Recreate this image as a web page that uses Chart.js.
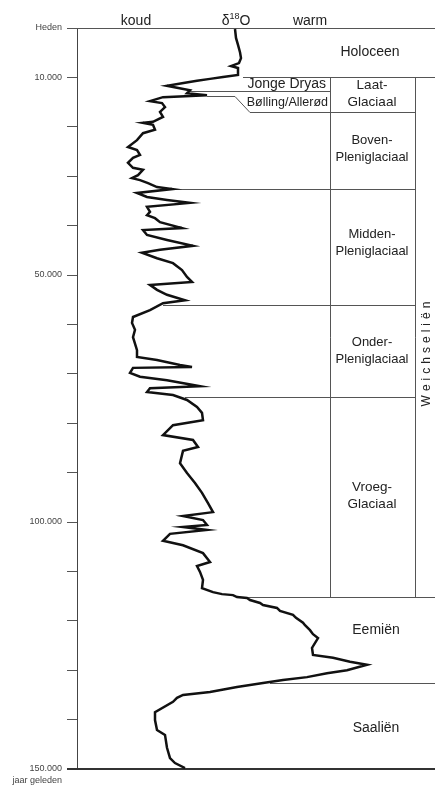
<!DOCTYPE html>
<html><head><meta charset="utf-8">
<script src="https://cdn.jsdelivr.net/npm/chart.js@4"></script>
<style>html,body{margin:0;padding:0;background:#fff}canvas{display:block}</style>
</head><body>
<canvas id="c" width="435" height="785"></canvas>
<script>
// ---- DATA ----
// relative δ18O index (left = koud, right = warm)
const deltaO18 = [158,159,161,163,164,162,154,161,161,146,133,120,108,90,100,113,110,130,86,73,85,88,83,86,76,66,76,78,66,60,51,60,63,56,51,56,66,61,55,63,71,80,95,60,70,90,113,70,73,70,78,83,105,66,70,90,116,83,65,80,96,105,110,115,73,80,90,108,86,73,56,55,58,56,60,60,80,103,115,56,53,63,90,123,73,70,96,110,120,125,126,96,86,116,121,106,103,110,118,125,131,136,106,126,130,106,130,93,86,106,126,133,120,123,126,125,136,145,156,160,170,173,183,186,200,203,216,219,226,228,233,236,241,235,236,256,273,290,270,250,230,206,186,160,133,106,100,96,78,78,80,88,90,93,98,108];
// years before present
const yearsAgo = [200,2000,3400,4900,6100,7100,7700,8100,9500,9900,10300,10700,11100,11700,12100,12600,13200,13600,14000,14800,15200,16000,17000,18000,19000,19200,19600,20600,21300,22700,24100,24700,25700,26300,27300,28300,28700,29800,30400,30800,31400,32200,32600,33400,34200,34800,35400,36200,37200,37900,38500,39300,40500,40900,41900,42900,44100,44900,45500,46600,47600,49000,50400,51400,52000,53000,54000,55100,55700,57100,58500,59700,61100,62600,65200,66600,67200,68200,68600,68800,69800,70600,71300,72500,72900,73700,74300,75300,76700,77900,79400,80400,82400,83400,84800,85600,88100,90100,92100,94100,96200,98000,98800,99600,100600,101000,101600,102400,103800,104700,106300,108100,108900,110100,111700,113400,114200,114600,114800,115200,115400,115800,116400,116800,117400,118000,118800,119400,120400,120900,121900,122700,123500,125500,126900,127500,128300,128900,130000,130600,131400,132000,132600,133400,134400,135000,135600,136400,138500,140100,142100,143100,145700,147800,148800,149800];

const yTickLabels = {0:'Heden',10000:'10.000',50000:'50.000',100000:'100.000',150000:'150.000'};
const periodNames = ['Holoceen','Laat-\nGlaciaal','Boven-\nPleniglaciaal','Midden-\nPleniglaciaal','Onder-\nPleniglaciaal','Vroeg-\nGlaciaal','Eemiën','Saaliën'];
const periodBoundaryYears = [10000, 17100, 32600, 56100, 74700, 115200, 132600];
const subZoneNames = ['Jonge Dryas','Bølling/Allerød'];
const subZoneBoundaryYears = [12800, 13700];
const stageName = 'Weichseliën';
const headerLabels = ['koud','warm'];

// ---- LAYOUT (positions in scale units) ----
const FONT = "'Liberation Sans', Arial, Helvetica, sans-serif";
const layout = {
  periodLabelAt: [[293,4900],[295,13400],[295,24400],[295,43600],[295,65400],[295,94700],[299,121900],[299,141700]],
  periodFontSize: [14,13.5,13,13,13,13.5,14,14],
  subZoneLabelAt: [[249,11300],[251,15100]],
  subZoneFontSize: [14,12.5],
  stageLabelAt: [350,66000],
  headerAt: [59,233], deltaAt: 159,
  boxLeft: 253, boxRight: 338, xEnd: 358,
  periodLineStart: [166, 173, 96, 86, 108, 166, 193],
  periodLineEnd:   [358, 338, 338, 338, 338, 358, 358],
  jdLine: [113, 253],
  baLine: [130, 158, 173]
};

const points = deltaO18.map((v,i)=>({x:v, y:yearsAgo[i]}));

function hline(ctx, x1, x2, y){ const yy=Math.round(y)+0.5; ctx.beginPath(); ctx.moveTo(x1,yy); ctx.lineTo(x2,yy); ctx.stroke(); }
function vline(ctx, x, y1, y2){ const xx=Math.round(x)+0.5; ctx.beginPath(); ctx.moveTo(xx,y1); ctx.lineTo(xx,y2); ctx.stroke(); }

const annot = {
  id:'annot',
  beforeDatasetsDraw(chart){
    const {ctx, scales:{x,y}} = chart;
    const X = v=>x.getPixelForValue(v), Y = v=>y.getPixelForValue(v);
    ctx.save();
    ctx.strokeStyle='#555'; ctx.lineWidth=1;
    hline(ctx, x.left-10, chart.width, Y(0));
    periodBoundaryYears.forEach((yr,i)=>{
      if (i===1) return;
      hline(ctx, X(layout.periodLineStart[i]), X(layout.periodLineEnd[i]), Y(yr));
    });
    hline(ctx, X(layout.jdLine[0]), X(layout.jdLine[1]), Y(subZoneBoundaryYears[0]));
    const yA = Math.round(Y(subZoneBoundaryYears[1]))+0.5, yB = Math.round(Y(periodBoundaryYears[1]))+0.5;
    ctx.beginPath();
    ctx.moveTo(X(layout.baLine[0]), yA);
    ctx.lineTo(X(layout.baLine[1]), yA);
    ctx.lineTo(X(layout.baLine[2]), yB);
    ctx.lineTo(X(layout.boxRight), yB);
    ctx.stroke();
    vline(ctx, X(layout.boxLeft), Y(periodBoundaryYears[0]), Y(periodBoundaryYears[5]));
    vline(ctx, X(layout.boxRight), Y(periodBoundaryYears[0]), Y(periodBoundaryYears[5]));
    ctx.strokeStyle='#333'; ctx.lineWidth=2;
    ctx.beginPath(); ctx.moveTo(x.left-10, Math.round(Y(150000))); ctx.lineTo(chart.width, Math.round(Y(150000))); ctx.stroke();
    ctx.restore();
  },
  afterDatasetsDraw(chart){
    const {ctx, scales:{x,y}} = chart;
    const X = v=>x.getPixelForValue(v), Y = v=>y.getPixelForValue(v);
    ctx.save();
    ctx.fillStyle='#222';
    ctx.textBaseline='middle';
    ctx.textAlign='center';
    periodNames.forEach((n,i)=>{
      ctx.font = `${layout.periodFontSize[i]}px ${FONT}`;
      const lines = n.split('\n');
      const [lx, ly] = layout.periodLabelAt[i];
      const cy = Y(ly);
      lines.forEach((t,j)=>ctx.fillText(t, X(lx), cy + (j-(lines.length-1)/2)*17));
    });
    ctx.textAlign='right';
    subZoneNames.forEach((n,i)=>{
      ctx.font = `${layout.subZoneFontSize[i]}px ${FONT}`;
      const [lx, ly] = layout.subZoneLabelAt[i];
      ctx.fillText(n, X(lx), Y(ly));
    });
    ctx.save();
    ctx.translate(X(layout.stageLabelAt[0]), Y(layout.stageLabelAt[1]));
    ctx.rotate(-Math.PI/2);
    ctx.font = `12px ${FONT}`;
    ctx.textAlign='left';
    const sp = 4;
    const chars = [...stageName];
    const total = chars.reduce((s,c)=>s+ctx.measureText(c).width,0) + sp*(chars.length-1);
    let cx = -total/2;
    chars.forEach(c=>{ ctx.fillText(c, cx, 0); cx += ctx.measureText(c).width + sp; });
    ctx.restore();
    const hy = chart.chartArea.top - 8;
    ctx.font = `14px ${FONT}`;
    ctx.textAlign='center';
    ctx.textBaseline='alphabetic';
    headerLabels.forEach((t,i)=>ctx.fillText(t, X(layout.headerAt[i]), hy+5));
    const w1 = ctx.measureText('δ').width, w3 = ctx.measureText('O').width;
    ctx.font = `9px ${FONT}`; const w2 = ctx.measureText('18').width;
    let sx = X(layout.deltaAt) - (w1+w2+w3)/2;
    ctx.textAlign='left';
    ctx.font = `14px ${FONT}`; ctx.fillText('δ', sx, hy+5); sx += w1;
    ctx.font = `9px ${FONT}`; ctx.fillText('18', sx, hy-1); sx += w2;
    ctx.font = `14px ${FONT}`; ctx.fillText('O', sx, hy+5);
    ctx.font = `9px ${FONT}`; ctx.fillStyle='#444';
    ctx.textAlign='right'; ctx.textBaseline='middle';
    ctx.fillText('jaar geleden', x.left-15, Y(150000)+12);
    ctx.restore();
  }
};

new Chart(document.getElementById('c'), {
  type:'scatter',
  data:{datasets:[{data:points, showLine:true, borderColor:'#111', borderWidth:2.5, pointRadius:0, tension:0, fill:false, borderJoinStyle:'miter'}]},
  options:{
    responsive:false, animation:false, devicePixelRatio:1,
    layout:{padding:{top:28,bottom:16,left:0,right:0}},
    plugins:{legend:{display:false}, tooltip:{enabled:false}},
    scales:{
      x:{type:'linear', min:0, max:layout.xEnd, display:false},
      y:{type:'linear', reverse:true, min:0, max:150000,
         afterFit(s){ s.width = 77; },
         ticks:{stepSize:10000, autoSkip:false, callback:v=>yTickLabels[v] ?? '', font:{size:9, family:FONT}, color:'#444', padding:5},
         grid:{drawOnChartArea:false, drawTicks:true, tickLength:10, color:'#555', lineWidth:1},
         border:{display:true, color:'#444', width:1}}
    }
  },
  plugins:[annot]
});
</script>
</body></html>
